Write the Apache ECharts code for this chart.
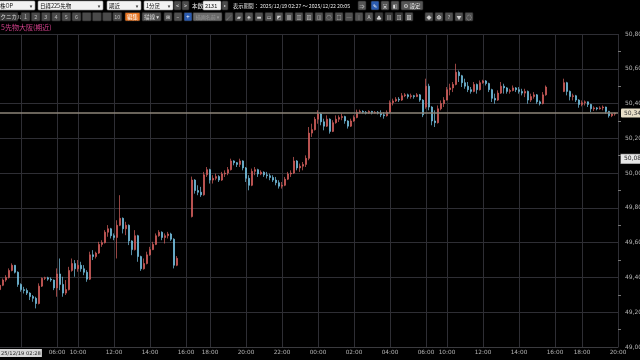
<!DOCTYPE html>
<html><head><meta charset="utf-8">
<script src="https://cdn.jsdelivr.net/npm/echarts@6/dist/echarts.min.js"></script>
<style>html,body{margin:0;padding:0;background:#000;}#c{width:640px;height:360px;}</style>
</head><body><div id="c"></div>
<script>
// ---- data ----
const tickSlots = [0,7,19,26,38,50,62,70,82,94,106,118,130,142,149,161,173,185,194,206];
const tickLabels = ['25/12/19 02:28','04:00','06:00','10:00','12:00','14:00','16:00','18:00','20:00','22:00','00:00','02:00','04:00','06:00','10:00','12:00','14:00','16:00','18:00','20:00'];
const yMin = 49000, yMax = 50800, yStep = 200;
const lastPrice = 50345;
const refPrice = 50082;
// [open, close, low, high] per 10-minute slot, null = no trading
const candles = [
[49330,49355,49318,49366],[49355,49385,49350,49394],[49385,49400,49375,49413],[49400,49440,49394,49452],
[49440,49470,49435,49481],[49470,49430,49423,49472],[49430,49360,49346,49435],[49360,49330,49318,49366],
[49330,49325,49308,49346],[49325,49310,49299,49337],[49310,49290,49270,49315],[49290,49280,49260,49299],
[49280,49250,49222,49289],[49250,49350,49245,49366],[49350,49395,49345,49400],[49395,49398,49385,49404],
[49398,49390,49381,49404],[49390,49385,49375,49400],[49385,49340,49327,49388],[49340,49420,49289,49452],
[49420,49360,49327,49509],[49360,49310,49289,49404],[49310,49330,49299,49385],[49330,49440,49325,49461],
[49440,49480,49433,49509],[49480,49450,49404,49500],[49450,49470,49433,49500],[49470,49450,49433,49490],
[49450,49430,49413,49471],[49430,49390,49375,49442],[49390,49530,49385,49548],[49530,49520,49500,49557],
[49520,49540,49509,49548],[49540,49590,49535,49605],[49590,49600,49576,49614],[49600,49660,49595,49672],
[49660,49680,49634,49701],[49680,49640,49624,49685],[49640,49630,49614,49653],[49630,49700,49509,49729],
[49700,49740,49695,49873],[49740,49680,49653,49745],[49680,49700,49643,49720],[49700,49610,49586,49705],
[49610,49560,49528,49614],[49560,49640,49555,49672],[49640,49520,49490,49645],[49520,49450,49438,49525],
[49450,49480,49445,49509],[49480,49530,49475,49548],[49530,49560,49525,49576],[49560,49590,49557,49605],
[49590,49640,49586,49653],[49640,49660,49634,49672],[49660,49630,49614,49665],[49630,49640,49595,49653],
[49640,49650,49624,49662],[49650,49620,49610,49657],[49620,49470,49452,49625],[49470,49510,49465,49523],
null,null,null,null,
[49750,49960,49745,49980],[49960,49900,49882,49965],[49900,49890,49873,49930],[49890,49875,49863,49921],
[49875,49990,49870,50007],[49990,50020,49978,50035],[50020,49960,49940,50025],[49960,49970,49940,49988],
[49970,49980,49959,49997],[49980,49960,49949,49988],[49960,49995,49955,50007],[49995,50000,49978,50016],
[50000,50020,49988,50035],[50020,50070,50015,50083],[50070,50060,50045,50074],[50060,50050,50035,50064],
[50050,50070,50035,50083],[50070,50030,50016,50074],[50030,49970,49949,50035],[49970,49930,49901,49988],
[49930,50010,49925,50026],[50010,50020,49988,50035],[50020,49995,49978,50025],[49995,50005,49988,50016],
[50005,49990,49978,50010],[49990,49985,49969,50007],[49985,49975,49959,49997],[49975,49960,49949,49988],
[49960,49945,49930,49978],[49945,49925,49911,49959],[49925,49930,49911,49949],[49930,49965,49925,49978],
[49965,49995,49960,50007],[49995,50000,49978,50016],[50000,50070,49995,50093],[50070,50030,50016,50075],
[50030,50040,50007,50055],[50040,50050,50016,50064],[50050,50085,50035,50102],[50085,50230,50074,50265],
[50230,50250,50208,50284],[50250,50310,50245,50323],[50310,50340,50284,50361],[50340,50295,50275,50345],
[50295,50270,50246,50313],[50270,50310,50265,50332],[50310,50240,50227,50315],[50240,50290,50236,50304],
[50290,50310,50284,50332],[50310,50320,50294,50332],[50320,50325,50304,50342],[50325,50300,50284,50330],
[50300,50270,50256,50304],[50270,50300,50265,50313],[50300,50320,50295,50332],[50320,50350,50315,50365],
[50350,50355,50342,50365],[50355,50350,50342,50361],[50350,50345,50338,50357],[50345,50355,50340,50361],
[50355,50345,50338,50358],[50345,50350,50342,50357],[50350,50345,50338,50357],[50345,50335,50322,50361],
[50335,50330,50313,50351],[50330,50350,50325,50361],[50350,50405,50345,50418],[50405,50415,50389,50428],
[50415,50425,50409,50437],[50425,50420,50409,50437],[50420,50445,50415,50460],[50445,50450,50437,50460],
[50450,50440,50428,50457],[50440,50445,50428,50457],[50445,50440,50428,50450],[50440,50450,50437,50460],
[50450,50420,50410,50455],[50420,50335,50322,50425],
[50380,50500,50370,50543],[50500,50380,50361,50514],[50380,50300,50275,50385],[50300,50290,50265,50361],
[50290,50370,50285,50389],[50370,50400,50361,50418],[50400,50420,50380,50437],[50420,50480,50418,50495],
[50480,50490,50447,50514],[50490,50510,50466,50524],[50510,50580,50505,50629],[50580,50560,50524,50590],
[50560,50520,50495,50565],[50520,50500,50485,50543],[50500,50480,50466,50524],[50480,50470,50457,50495],
[50470,50510,50465,50524],[50510,50480,50457,50515],[50480,50520,50475,50533],[50520,50530,50514,50537],
[50530,50515,50504,50535],[50515,50480,50466,50520],[50480,50430,50409,50485],[50430,50420,50399,50457],
[50420,50460,50415,50476],[50460,50500,50455,50524],[50500,50490,50457,50514],[50490,50470,50457,50495],
[50470,50475,50457,50485],[50475,50490,50470,50504],[50490,50480,50466,50495],[50480,50470,50457,50495],
[50470,50460,50447,50485],[50460,50470,50437,50485],[50470,50420,50399,50475],[50420,50440,50409,50457],
[50440,50450,50428,50466],[50450,50410,50399,50455],[50410,50400,50389,50418],[50400,50450,50395,50466],
[50450,50495,50445,50504],
null,null,null,null,null,
[50470,50520,50466,50543],[50520,50470,50447,50525],[50470,50440,50418,50475],[50440,50445,50418,50457],
[50445,50420,50409,50450],[50420,50395,50376,50425],[50395,50405,50384,50418],[50405,50410,50389,50418],
[50410,50395,50380,50412],[50395,50370,50351,50398],[50370,50375,50357,50384],[50375,50370,50361,50380],
[50370,50375,50365,50384],[50375,50380,50361,50389],[50380,50355,50342,50382],[50355,50330,50319,50358],
[50330,50340,50322,50346],[50340,50345,50330,50348],
null
];
const categories = candles.map((_, i) => String(i));
const labelMap = {};
tickSlots.forEach((s, k) => { labelMap[s] = tickLabels[k]; });

// ---- toolbar graphics ----
const FF = '"Noto Sans CJK JP", "DejaVu Sans", sans-serif';
const G = [];
function rect(x, y, w, h, fill, stroke) {
  G.push({type: 'rect', silent: true, shape: {x: x, y: y, width: w, height: h, r: 1},
    style: {fill: fill, stroke: stroke || null, lineWidth: stroke ? 0.6 : 0}});
}
function text(x, y, s, fill, size, align) {
  G.push({type: 'text', silent: true, x: x, y: y,
    style: {text: s, fill: fill, fontSize: size, fontFamily: FF, verticalAlign: 'middle', align: align || 'left'}});
}
function dropdown(x, w, s) {
  rect(x, 1, w, 9, '#f2f2f2', '#999');
  text(x + 2, 5.7, s, '#111', 5.5);
  text(x + w - 4, 5.7, '▾', '#333', 5, 'center');
}
function btn(x, y, w, h, fill, s, col, size) {
  rect(x, y, w, h, fill, '#222');
  if (s) text(x + w / 2, y + h / 2 + 0.3, s, col || '#ddd', size || 5.5, 'center');
}
// row 1
dropdown(-2, 37, '株OP');
dropdown(38, 65, '日経225先物');
dropdown(107, 34, '期近');
dropdown(144, 29, '1分足');
btn(174, 1, 7, 9, '#4c4c4c', '<');
btn(182, 1, 7, 9, '#4c4c4c', '>');
text(192, 5.7, '本数', '#e8e8e8', 5.5);
rect(203, 1, 18, 9, '#f2f2f2', '#999');
text(205, 5.7, '2131', '#111', 5.5);
btn(222, 1, 6, 9, '#4c4c4c', '▸', '#ccc', 4);
text(233, 5.7, '表示期間： 2025/12/19 02:27 ～ 2025/12/22 20:05', '#e8e8e8', 5.2);
btn(358, 1, 8, 9, '#555', '⇒', '#ddd', 5);
btn(371, 1, 8, 9, '#2c5cb0', '✎', '#fff', 5);
btn(381, 1, 8, 9, '#555', '▣', '#ddd', 5);
btn(391, 1, 8, 9, '#555', '◧', '#ddd', 5);
btn(401, 1, 22, 9, '#555', '⚙ 設定', '#e8e8e8', 5.5);
// row 2
rect(-2, 12.5, 20, 8.5, '#3c3c3c', '#222');
text(-5, 17, 'テクニカル', '#ddd', 5.5);
const numLabels = ['1','2','3','4','5','6','','','','10'];
numLabels.forEach((s, k) => btn(21 + 10.2 * k, 12.5, 9, 8.5, '#4a4a4a', s, '#bbb', 5.5));
btn(125, 12.5, 15, 8.5, '#e8731e', '編集', '#fff', 5.5);
btn(142, 12.5, 19, 8.5, '#505050', '描線 ▾', '#ddd', 5.5);
btn(164, 12.5, 8, 8.5, '#505050', '⊞', '#ddd', 5);
btn(174, 12.5, 8, 8.5, '#505050', '−', '#ddd', 5);
btn(184, 12.5, 8, 8.5, '#2c5cb0', '+', '#fff', 6);
btn(193, 12.5, 29, 8.5, '#6a6a6a', '描画名前 ▾', '#9a9a9a', 5);
const iconGlyphs = ['╱','▰','◈','▬','▭','◩','▦','▥','▨','◫','○','□','─','│','A','♣','▤','▧','▩','◆','✿','?','▼','◌'];
iconGlyphs.forEach((s, k) => {
  const x = 225 + 10 * k + (k > 18 ? 10 : 0);
  btn(x, 12.5, 8, 8.5, k > 14 && k < 18 ? '#3a3a3a' : '#505050', s, '#cfcfcf', 5);
});
// title
text(1, 27.5, '5先物大阪(期近)', '#d4418c', 7);

const chart = echarts.init(document.getElementById('c'), null, {renderer: 'canvas'});
chart.setOption({
  animation: false,
  backgroundColor: '#000',
  graphic: G,
  grid: {left: 0, right: 22, top: 34, bottom: 13, outerBoundsMode: 'none', containLabel: false},
  xAxis: {
    type: 'category', data: categories, boundaryGap: false,
    axisLine: {show: true, lineStyle: {color: '#3a3a3e'}},
    axisTick: {show: false},
    axisLabel: {
      interval: (i) => labelMap[i] !== undefined,
      formatter: (v, i) => i === 0 ? '{d|' + labelMap[0] + '}' : labelMap[i],
      color: '#b4b4b4', fontSize: 5.8, fontFamily: 'DejaVu Sans', margin: 2,
      alignMinLabel: 'left', showMinLabel: true, showMaxLabel: true, hideOverlap: false,
      rich: {d: {backgroundColor: '#d6d6d6', color: '#222', fontSize: 5.2, fontFamily: 'DejaVu Sans', padding: [2, 1, 1, 1]}}
    },
    splitLine: {show: true, interval: (i) => i > 0 && labelMap[i] !== undefined, lineStyle: {color: '#2e2e34', width: 1}}
  },
  yAxis: {
    type: 'value', position: 'right', min: yMin, max: yMax, interval: yStep, scale: true,
    axisLine: {show: false}, axisTick: {show: false},
    minorTick: {show: true, splitNumber: 2, length: 3, lineStyle: {color: '#777'}},
    axisLabel: {color: '#b4b4b4', fontSize: 6, fontFamily: 'DejaVu Sans', margin: 7,
      formatter: (v) => v.toLocaleString('en-US')},
    splitLine: {lineStyle: {color: '#2e2e34', width: 1}}
  },
  series: [{
    type: 'candlestick',
    data: candles.map(c => c === null ? ['-','-','-','-'] : c),
    barWidth: 1.6,
    itemStyle: {color: '#d9625e', color0: '#78c6e6', borderColor: '#d9625e', borderColor0: '#78c6e6', borderWidth: 0.7},
    markLine: {
      silent: true, symbol: ['none', 'none'], animation: false,
      data: [
        {yAxis: lastPrice, lineStyle: {color: '#8c8578', width: 1.5, type: 'solid'},
         label: {show: true, position: 'end', distance: 3, formatter: '50,345', color: '#333', fontSize: 6,
           fontFamily: 'DejaVu Sans', backgroundColor: '#e8dfc8', padding: [2, 3, 1, 3], borderRadius: 1}},
        {yAxis: refPrice, lineStyle: {color: 'rgba(0,0,0,0)', width: 0},
         label: {show: true, position: 'end', distance: 3, formatter: '50,082', color: '#222', fontSize: 6,
           fontFamily: 'DejaVu Sans', backgroundColor: '#e6e6e6', borderColor: '#888', borderWidth: 0.6, padding: [2, 3, 1, 3]}}
      ]
    }
  }]
});
</script></body></html>
